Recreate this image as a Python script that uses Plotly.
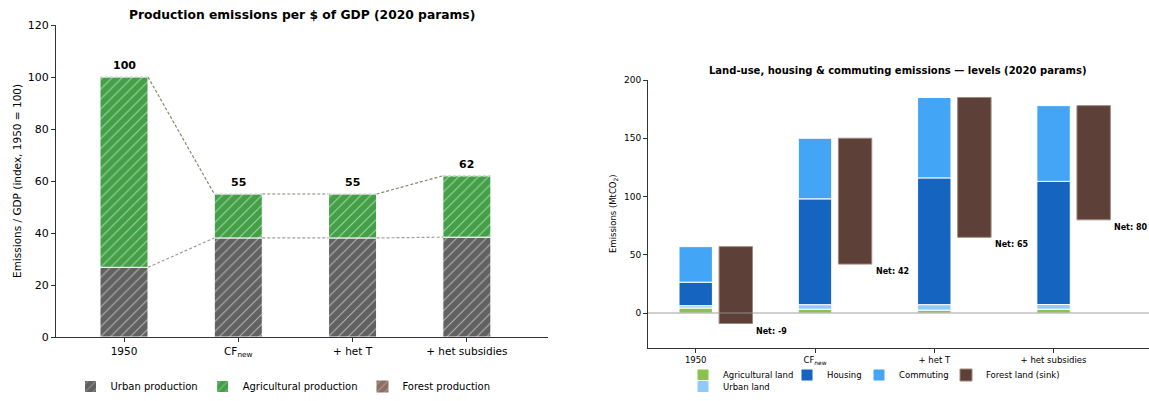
import plotly.graph_objects as go
import numpy as np

# ---------------- data ----------------
scenarios = ["1950", "CF<sub>new</sub>", "+ het T", "+ het subsidies"]

# left panel: production emissions per $ GDP (index 1950 = 100)
urban_prod = [26.8, 38.1, 38.1, 38.4]
agri_prod = [73.2, 16.9, 16.9, 23.6]
forest_prod = [0.0, 0.0, 0.0, 0.0]
total_labels = ["100", "55", "55", "62"]

# right panel: land-use, housing & commuting emissions (MtCO2)
agri_land = [4.3, 3.3, 2.5, 3.3]
urban_land = [2.0, 3.9, 4.7, 4.0]
housing = [20.2, 90.8, 108.8, 105.7]
commuting = [30.5, 52.0, 69.0, 65.0]
forest_sink = [66.0, 108.0, 120.0, 98.0]
net_vals = [-9, 42, 65, 80]

y_left_ticks = [0, 20, 40, 60, 80, 100, 120]
y_right_ticks = [0, 50, 100, 150, 200]

FONT = "DejaVu Sans"
W, H = 1149, 401

x = np.arange(len(scenarios))
fig = go.Figure()

# ---------------- left panel ----------------
bw = 0.42
u = np.array(urban_prod)
a = np.array(agri_prod)
tot_l = u + a

def hatch(color, lw=1):
    return dict(color=color, line=dict(color="white", width=lw),
                pattern=dict(shape="/", fgcolor="white", bgcolor=color, size=7, solidity=0.16))

fig.add_trace(go.Bar(x=x, y=u, base=np.zeros(4), width=bw, name="Urban production",
                     marker=hatch("#616161"), xaxis="x", yaxis="y", legend="legend"))
fig.add_trace(go.Bar(x=x, y=a, base=u, width=bw, name="Agricultural production",
                     marker=hatch("#43A047"), xaxis="x", yaxis="y", legend="legend"))
fig.add_trace(go.Bar(x=x, y=forest_prod, base=tot_l, width=bw, name="Forest production",
                     marker=hatch("#8D6E63", 0), xaxis="x", yaxis="y", legend="legend"))

# connector lines
for i in range(3):
    fig.add_trace(go.Scatter(x=[x[i] + bw / 2, x[i + 1] - bw / 2], y=[tot_l[i], tot_l[i + 1]],
                             mode="lines", line=dict(color="#7f8c66", width=1.2, dash="3px,2px"),
                             showlegend=False, hoverinfo="skip", xaxis="x", yaxis="y"))
    fig.add_trace(go.Scatter(x=[x[i] + bw / 2, x[i + 1] - bw / 2], y=[u[i], u[i + 1]],
                             mode="lines", line=dict(color="#9e9e9e", width=1.2, dash="3px,2px"),
                             showlegend=False, hoverinfo="skip", xaxis="x", yaxis="y"))
# light dashed cap on totals
for i in range(4):
    fig.add_trace(go.Scatter(x=[x[i] - bw / 2, x[i] + bw / 2], y=[tot_l[i], tot_l[i]],
                             mode="lines", line=dict(color="#d9d9d9", width=1.5, dash="3px,2px"),
                             showlegend=False, hoverinfo="skip", xaxis="x", yaxis="y"))

annotations = []
for i in range(4):
    annotations.append(dict(x=x[i], y=tot_l[i], xref="x", yref="y", text="<b>%s</b>" % total_labels[i],
                            showarrow=False, yanchor="bottom", yshift=3,
                            font=dict(family=FONT, size=11, color="black")))

# ---------------- right panel ----------------
bw2 = 0.28
ag = np.array(agri_land)
ul = np.array(urban_land)
hs = np.array(housing)
cm = np.array(commuting)
fs = np.array(forest_sink)
net = np.array(net_vals)

b1 = ag
b2 = b1 + ul
b3 = b2 + hs
tot_r = b3 + cm

edge = dict(color="white", width=1)
fig.add_trace(go.Bar(x=x, y=ag, base=np.zeros(4), width=bw2, name="Agricultural land",
                     marker=dict(color="#8BC34A", line=edge), xaxis="x2", yaxis="y2",
                     legend="legend2"))
fig.add_trace(go.Bar(x=x, y=ul, base=b1, width=bw2, name="Urban land",
                     marker=dict(color="#90CAF9", line=edge), xaxis="x2", yaxis="y2",
                     legend="legend6"))
fig.add_trace(go.Bar(x=x, y=hs, base=b2, width=bw2, name="Housing",
                     marker=dict(color="#1565C0", line=edge), xaxis="x2", yaxis="y2",
                     legend="legend3"))
fig.add_trace(go.Bar(x=x, y=cm, base=b3, width=bw2, name="Commuting",
                     marker=dict(color="#42A5F5", line=edge), xaxis="x2", yaxis="y2",
                     legend="legend4"))
fig.add_trace(go.Bar(x=x + 0.336, y=-fs, base=tot_r, width=bw2, name="Forest land (sink)",
                     marker=dict(color="#5D4037", line=dict(color="#a1887f", width=1)),
                     xaxis="x2", yaxis="y2", legend="legend5"))

for i in range(4):
    annotations.append(dict(x=x[i] + 0.336 + bw2 / 2, y=net[i], xref="x2", yref="y2",
                            text="<b>Net: %d</b>" % net[i], showarrow=False,
                            xanchor="left", yanchor="top", xshift=2, yshift=-1,
                            font=dict(family=FONT, size=8, color="black")))

# titles
annotations.append(dict(x=302 / W, y=1 - 15 / H, xref="paper", yref="paper",
                        text="<b>Production emissions per $ of GDP (2020 params)</b>",
                        showarrow=False, xanchor="center", yanchor="middle",
                        font=dict(family=FONT, size=12.3, color="black")))
annotations.append(dict(x=898 / W, y=1 - 71 / H, xref="paper", yref="paper",
                        text="<b>Land-use, housing &amp; commuting emissions — levels (2020 params)</b>",
                        showarrow=False, xanchor="center", yanchor="middle",
                        font=dict(family=FONT, size=10, color="black")))
annotations.append(dict(x=17 / W, y=1 - 181 / H, xref="paper", yref="paper",
                        text="Emissions / GDP (index, 1950 = 100)", textangle=-90,
                        showarrow=False, xanchor="center", yanchor="middle",
                        font=dict(family=FONT, size=10.5, color="black")))
annotations.append(dict(x=614 / W, y=1 - 214 / H, xref="paper", yref="paper",
                        text="Emissions (MtCO<sub>2</sub>)", textangle=-90,
                        showarrow=False, xanchor="center", yanchor="middle",
                        font=dict(family=FONT, size=8.5, color="black")))

axis_common = dict(showline=True, linecolor="#333333", linewidth=1, ticks="outside",
                   ticklen=4, tickcolor="#333333", showgrid=False, zeroline=False,
                   automargin=False)

leg_common = dict(orientation="h", bgcolor="rgba(0,0,0,0)", borderwidth=0,
                  itemwidth=30, tracegroupgap=0)
small_leg = dict(font=dict(family=FONT, size=8.5), xanchor="left", yanchor="middle", **leg_common)
small_leg_b = dict(font=dict(family=FONT, size=8.5), xanchor="left", yanchor="bottom", **leg_common)

fig.update_layout(
    width=W, height=H,
    margin=dict(l=0, r=0, t=0, b=0),
    paper_bgcolor="white", plot_bgcolor="white",
    barmode="overlay",
    font=dict(family=FONT, color="black"),
    xaxis=dict(domain=[56 / W, 548 / W], range=[-0.595, 3.71], tickvals=list(x),
               ticktext=scenarios, tickfont=dict(size=10.5), anchor="y", **axis_common),
    yaxis=dict(domain=[1 - 337 / H, 1 - 25 / H], range=[0, 120], tickvals=y_left_ticks,
               tickfont=dict(size=11), anchor="x", **axis_common),
    xaxis2=dict(domain=[648 / W, 1.0], range=[-0.4, 3.8], tickvals=list(x),
                ticktext=scenarios, tickfont=dict(size=8.5), anchor="y2", **axis_common),
    yaxis2=dict(domain=[1 - 348 / H, 1 - 80 / H], range=[-30, 200], tickvals=y_right_ticks,
                tickfont=dict(size=9), anchor="x2", **axis_common),
    legend=dict(x=283 / W, y=0.0, xanchor="center", yanchor="bottom",
                font=dict(family=FONT, size=10), **leg_common),
    legend2=dict(x=683 / W, y=1 - 375 / H, **small_leg),
    legend3=dict(x=787 / W, y=1 - 375 / H, **small_leg),
    legend4=dict(x=859 / W, y=1 - 375 / H, **small_leg),
    legend5=dict(x=946 / W, y=1 - 375 / H, **small_leg),
    legend6=dict(x=683 / W, y=0.0, **small_leg_b),
    annotations=annotations,
    shapes=[dict(type="line", xref="x2 domain", yref="y2", x0=0, x1=1, y0=0, y1=0,
                 line=dict(color="rgba(150,150,150,0.6)", width=1.5), layer="above")],
    showlegend=True,
)

fig.write_html("out.html", post_script="document.body.style.margin='0px';")
